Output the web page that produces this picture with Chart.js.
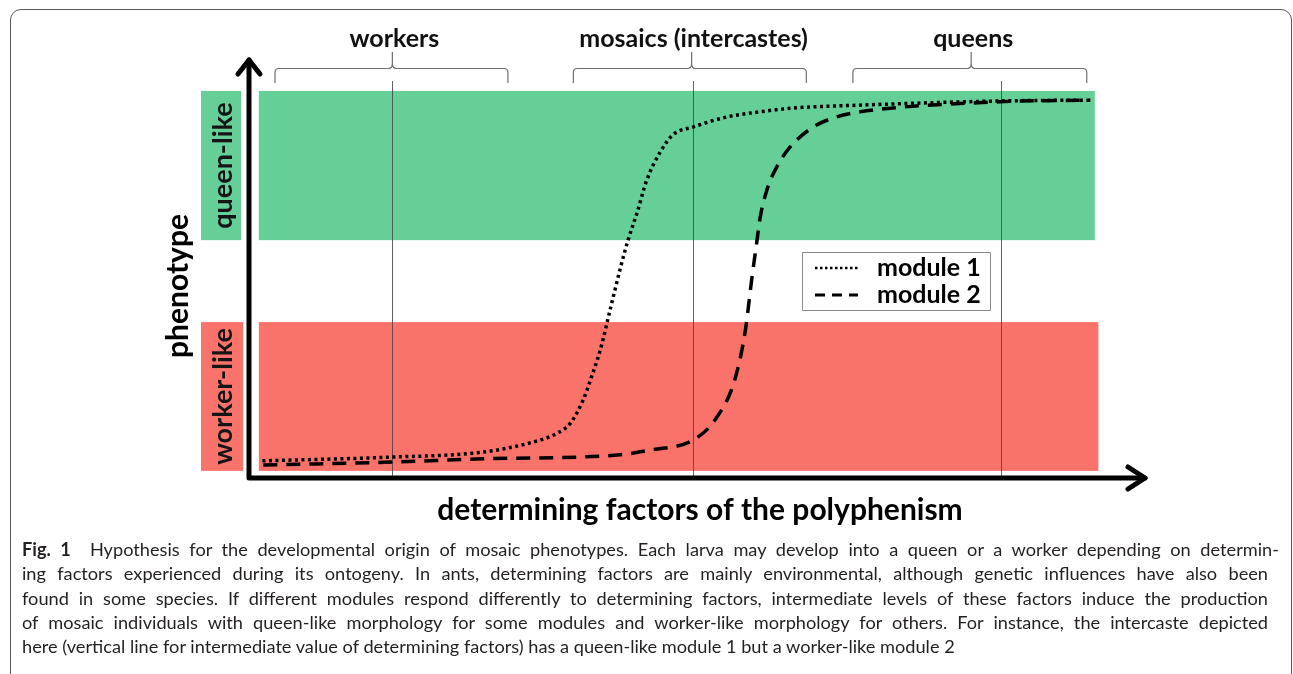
<!DOCTYPE html>
<html>
<head>
<meta charset="utf-8">
<script src="https://cdn.jsdelivr.net/npm/chart.js@4"></script>
<style>
  body { margin: 0; background: #fff; }
  #wrap { position: relative; width: 1293px; height: 674px; overflow: hidden; }
  #frame { position: absolute; left: 10px; top: 9px; width: 1280px; height: 700px;
           border: 1.5px solid #5a5a5a; border-radius: 11px; }
  #box { position: absolute; left: 0; top: 0; width: 1293px; height: 674px; }
  #caption { position: absolute; left: 22px; top: 537px; width: 1246px;
             font-family: Lato, sans-serif; font-size: 18.2px; color: #231f20; }
  #caption div { height: 24.3px; line-height: 24.3px; white-space: nowrap;
                 text-align: justify; text-align-last: justify; }
  #caption div.last { text-align-last: left; }
  #caption b { font-weight: 700; }
</style>
</head>
<body>
<div id="wrap">
  <div id="frame"></div>
  <div id="box"><canvas id="myChart"></canvas></div>
  <div id="caption">
    <div style="width:1257px"><b>Fig. 1</b>&nbsp;&nbsp;Hypothesis for the developmental origin of mosaic phenotypes. Each larva may develop into a queen or a worker depending on determin-</div>
    <div>ing factors experienced during its ontogeny. In ants, determining factors are mainly environmental, although genetic influences have also been</div>
    <div>found in some species. If different modules respond differently to determining factors, intermediate levels of these factors induce the production</div>
    <div>of mosaic individuals with queen-like morphology for some modules and worker-like morphology for others. For instance, the intercaste depicted</div>
    <div class="last">here (vertical line for intermediate value of determining factors) has a queen-like module 1 but a worker-like module 2</div>
  </div>
</div>
<script>
// determining factor (x) vs phenotype (y), both on a 0-100 scale
const module1X = [1.5, 16.0, 26.1, 31.7, 34.3, 35.9, 37.3, 38.1, 39.2, 40.3, 41.4, 42.3, 43.3, 44.4, 45.9, 47.3, 49.6, 53.4, 57.0, 60.7, 68.2, 83.8, 93.9];
const module1Y = [4.1, 5.0, 6.2, 8.6, 10.6, 13.2, 18.7, 23.4, 30.6, 40.2, 49.8, 56.9, 63.4, 71.3, 78.0, 82.1, 84.0, 86.4, 87.6, 88.5, 89.2, 90.2, 90.4];
const module2X = [1.6, 16.0, 26.1, 41.1, 44.8, 49.6, 52.0, 54.2, 55.4, 56.1, 56.7, 57.0, 57.8, 58.9, 60.4, 63.0, 65.6, 68.2, 83.8, 93.9];
const module2Y = [3.1, 3.8, 4.6, 5.5, 6.7, 9.1, 13.9, 23.4, 35.4, 47.4, 56.9, 61.7, 68.9, 74.4, 79.2, 84.0, 86.4, 87.6, 90.0, 90.4];

// phenotype bands
const bandNames = ['queen-like', 'worker-like'];
const bandLow = [56.9, 1.7];
const bandHigh = [92.6, 37.3];
const bandStart = [1.1, 1.1];
const bandEnd = [94.4, 94.8];

// caste groups along the x axis
const groupNames = ['workers', 'mosaics (intercastes)', 'queens'];
const groupStart = [2.9, 36.2, 67.4];
const groupEnd = [28.9, 62.2, 93.5];
const groupMid = [16.0, 49.4, 80.6];

// example individuals (vertical lines)
const markers = [16.0, 49.6, 83.9];

const bandColors = ['#66cf97', '#f9736b'];
const boldFont = 'Lato, "Open Sans", sans-serif';

const figure = {
  id: 'figure',
  beforeDatasetsDraw(chart) {
    const {ctx, scales: {x, y}} = chart;
    ctx.save();
    bandNames.forEach((name, i) => {
      const top = y.getPixelForValue(bandHigh[i]);
      const bot = y.getPixelForValue(bandLow[i]);
      const l = x.getPixelForValue(bandStart[i]);
      ctx.fillStyle = bandColors[i];
      ctx.fillRect(l, top, x.getPixelForValue(bandEnd[i]) - l, bot - top);
      ctx.fillRect(x.left - 48, top, 40 + i * 2, bot - top);
      ctx.save();
      ctx.translate(x.left - 26, (top + bot) / 2);
      ctx.rotate(-Math.PI / 2);
      ctx.fillStyle = '#151515';
      ctx.font = 'bold 27px ' + boldFont;
      ctx.textAlign = 'center';
      ctx.textBaseline = 'middle';
      ctx.fillText(name, 0, 0);
      ctx.restore();
    });
    ctx.strokeStyle = 'rgba(70,70,70,0.85)';
    ctx.lineWidth = 1;
    markers.forEach(v => {
      const px = Math.round(x.getPixelForValue(v)) + 0.5;
      ctx.beginPath();
      ctx.moveTo(px, y.top + 21);
      ctx.lineTo(px, y.bottom);
      ctx.stroke();
    });
    ctx.restore();
  },
  afterDatasetsDraw(chart) {
    const {ctx, scales: {x, y}} = chart;
    const ox = x.left, oy = y.bottom;
    ctx.save();

    // axes with arrow heads
    ctx.strokeStyle = '#000';
    ctx.lineWidth = 5;
    ctx.lineJoin = 'round';
    ctx.lineCap = 'round';
    ctx.beginPath();
    ctx.moveTo(ox, y.top);
    ctx.lineTo(ox, oy);
    ctx.lineTo(x.right, oy);
    ctx.stroke();
    ctx.beginPath();
    ctx.moveTo(ox - 11, y.top + 14);
    ctx.lineTo(ox, y.top);
    ctx.lineTo(ox + 11, y.top + 14);
    ctx.moveTo(x.right - 17, oy - 11);
    ctx.lineTo(x.right, oy);
    ctx.lineTo(x.right - 17, oy + 11);
    ctx.stroke();

    // axis titles
    ctx.fillStyle = '#000';
    ctx.font = 'bold 30px ' + boldFont;
    ctx.textAlign = 'center';
    ctx.textBaseline = 'alphabetic';
    ctx.fillText('determining factors of the polyphenism', 700, oy + 42);
    ctx.save();
    ctx.translate(ox - 71, 286);
    ctx.rotate(-Math.PI / 2);
    ctx.textBaseline = 'middle';
    ctx.fillText('phenotype', 0, 0);
    ctx.restore();

    // braces above the groups
    const yH = y.top + 8.5, yEnd = y.top + 23, yPeak = y.top - 8, r = 4;
    ctx.lineWidth = 1.2;
    ctx.lineCap = 'butt';
    ctx.strokeStyle = '#6f6f6f';
    groupNames.forEach((name, i) => {
      const a = x.getPixelForValue(groupStart[i]);
      const b = x.getPixelForValue(groupEnd[i]);
      const m = x.getPixelForValue(groupMid[i]);
      ctx.beginPath();
      ctx.moveTo(a, yEnd);
      ctx.lineTo(a, yH + r);
      ctx.quadraticCurveTo(a, yH, a + r, yH);
      ctx.lineTo(m - 4, yH);
      ctx.quadraticCurveTo(m, yH, m, yH - 5);
      ctx.lineTo(m, yPeak);
      ctx.moveTo(m, yH - 5);
      ctx.quadraticCurveTo(m, yH, m + 4, yH);
      ctx.lineTo(b - r, yH);
      ctx.quadraticCurveTo(b, yH, b, yH + r);
      ctx.lineTo(b, yEnd);
      ctx.stroke();
      ctx.fillStyle = '#111';
      ctx.font = 'bold 25px ' + boldFont;
      ctx.textAlign = 'center';
      ctx.fillText(name, m + 2, y.top - 13);
    });

    // legend box
    ctx.fillStyle = '#fff';
    ctx.fillRect(802, 252, 188, 58);
    ctx.strokeStyle = '#8a8a8a';
    ctx.lineWidth = 1;
    ctx.strokeRect(802.5, 252.5, 188, 58);
    chart.data.datasets.forEach((ds, i) => {
      const ly = 268 + i * 27;
      ctx.strokeStyle = '#000';
      ctx.lineWidth = i === 0 ? 2.5 : 3;
      ctx.setLineDash(i === 0 ? [2.5, 2.5] : [10, 7]);
      ctx.beginPath();
      ctx.moveTo(815, ly);
      ctx.lineTo(858, ly);
      ctx.stroke();
      ctx.setLineDash([]);
      ctx.fillStyle = '#000';
      ctx.font = 'bold 25px ' + boldFont;
      ctx.textAlign = 'left';
      ctx.textBaseline = 'middle';
      ctx.fillText(ds.label, 877, ly);
    });
    ctx.restore();
  }
};

const ctx = document.getElementById('myChart').getContext('2d');
const myChart = new Chart(ctx, {
  type: 'line',
  data: {
    datasets: [{
      label: 'module 1',
      data: module1X.map((v, i) => ({x: v, y: module1Y[i]})),
      borderColor: '#000',
      borderWidth: 3.5,
      borderDash: [3, 3.5],
      pointRadius: 0,
      cubicInterpolationMode: 'monotone'
    }, {
      label: 'module 2',
      data: module2X.map((v, i) => ({x: v, y: module2Y[i]})),
      borderColor: '#000',
      borderWidth: 3.5,
      borderDash: [14, 9],
      pointRadius: 0,
      cubicInterpolationMode: 'monotone'
    }]
  },
  options: {
    responsive: true,
    maintainAspectRatio: false,
    animation: false,
    layout: { padding: { left: 249, right: 148, top: 60, bottom: 196 } },
    scales: {
      x: { type: 'linear', min: 0, max: 100, display: false },
      y: { type: 'linear', min: 0, max: 100, display: false }
    },
    plugins: { legend: { display: false }, tooltip: { enabled: false } }
  },
  plugins: [figure]
});
</script>
</body>
</html>
